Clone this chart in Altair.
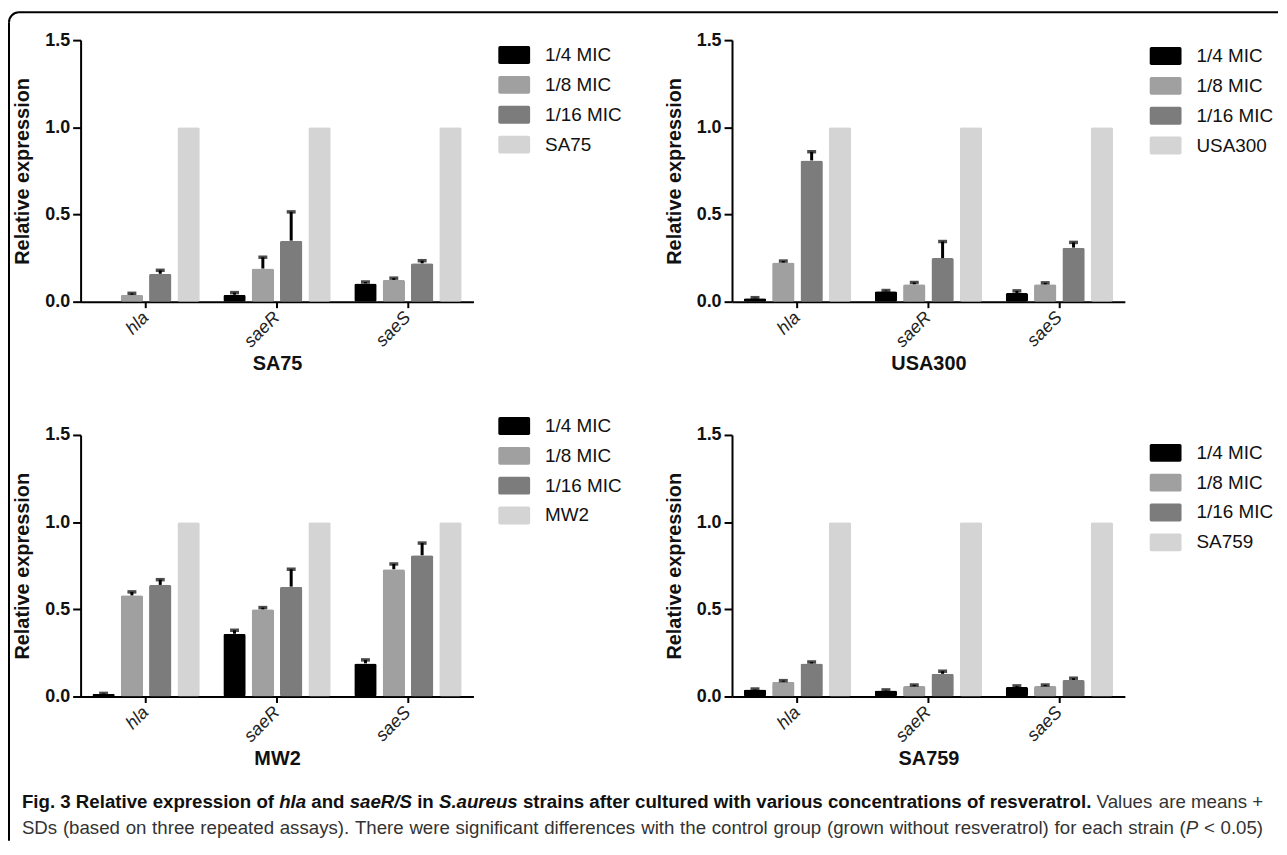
import altair as alt
import pandas as pd

FONT = "Liberation Sans"

genes = ["hla", "saeR", "saeS"]
doses = ["1/4 MIC", "1/8 MIC", "1/16 MIC"]
strains = ["SA75", "USA300", "MW2", "SA759"]
bar_colors = ["#000000", "#a0a0a0", "#7c7c7c", "#d4d4d4"]

# rows = genes (hla, saeR, saeS); columns = 1/4 MIC, 1/8 MIC, 1/16 MIC, untreated strain
sa75_mean = [[0.0, 0.04, 0.16, 1.0], [0.04, 0.19, 0.35, 1.0], [0.105, 0.125, 0.22, 1.0]]
sa75_sd = [[0.0, 0.008, 0.02, 0.0], [0.012, 0.065, 0.165, 0.0], [0.008, 0.01, 0.015, 0.0]]

usa300_mean = [[0.02, 0.225, 0.81, 1.0], [0.06, 0.10, 0.25, 1.0], [0.05, 0.10, 0.31, 1.0]]
usa300_sd = [[0.003, 0.008, 0.05, 0.0], [0.004, 0.01, 0.095, 0.0], [0.012, 0.008, 0.03, 0.0]]

mw2_mean = [[0.015, 0.58, 0.64, 1.0], [0.36, 0.50, 0.63, 1.0], [0.19, 0.73, 0.81, 1.0]]
mw2_sd = [[0.003, 0.02, 0.03, 0.0], [0.02, 0.01, 0.10, 0.0], [0.02, 0.03, 0.07, 0.0]]

sa759_mean = [[0.04, 0.085, 0.19, 1.0], [0.035, 0.06, 0.13, 1.0], [0.055, 0.06, 0.095, 1.0]]
sa759_sd = [[0.003, 0.006, 0.008, 0.0], [0.003, 0.006, 0.015, 0.0], [0.006, 0.006, 0.01, 0.0]]

caption_line1 = [
    ("Fig. 3 Relative expression of", "b"), ("hla", "bi"), ("and", "b"), ("saeR/S", "bi"),
    ("in", "b"), ("S.aureus", "bi"),
    ("strains after cultured with various concentrations of resveratrol.", "b"),
    ("Values are means +", "r"),
]
caption_line2 = [
    ("SDs (based on three repeated assays). There were significant differences with the control "
     "group (grown without resveratrol) for each strain (", "r"),
    ("P", "i"), ("< 0.05)", "r"),
]

W, H = 395, 263

# ---------- panels ----------
SWATCH = ("M-1.1,-0.69H1.1Q1.23,-0.69 1.23,-0.56V0.56Q1.23,0.69 1.1,0.69H-1.1"
          "Q-1.23,0.69 -1.23,0.56V-0.56Q-1.23,-0.69 -1.1,-0.69Z")


def panel(strain, means, sds, legend_y):
    groups = doses + [strain]
    rows = []
    for gi, g in enumerate(genes):
        for k, grp in enumerate(groups):
            m, s = means[gi][k], sds[gi][k]
            rows.append({"gene": g, "group": grp, "value": m, "sd": s, "upper": m + s})
    df = pd.DataFrame(rows)

    xaxis = alt.Axis(
        title=strain, titleFont=FONT, titleFontSize=20, titleFontWeight="bold", titleColor="#111",
        titleY=62, titleBaseline="middle",
        labelAngle=315, labelAlign="right", labelBaseline="middle", labelFont=FONT,
        labelFontSize=18, labelFontStyle="italic", labelColor="#222", labelPadding=7,
        tickSize=6, tickWidth=2, tickColor="black", domainWidth=2, domainColor="black", grid=False,
    )
    yaxis = alt.Axis(
        title="Relative expression", values=[0, 0.5, 1.0, 1.5], format=".1f",
        labelFont=FONT, labelFontSize=18, labelFontWeight="bold", labelColor="#111", labelPadding=3,
        tickSize=8, tickWidth=2, tickColor="black", domainWidth=2, domainColor="black", grid=False,
        titleFont=FONT, titleFontSize=20, titleFontWeight="bold", titleColor="#111",
        titleX=-58, titleBaseline="middle",
    )
    xscale = alt.Scale(domain=genes, paddingInner=0.18, paddingOuter=0.09)
    oscale = alt.Scale(domain=groups, paddingInner=0.21, paddingOuter=0)
    yscale = alt.Scale(domain=[0, 1.5], nice=False)

    def xenc():
        return alt.X("gene:N", sort=genes, title=strain, scale=xscale, axis=xaxis)

    def oenc():
        return alt.XOffset("group:N", sort=groups, scale=oscale)

    legend = alt.Legend(
        orient="none", legendX=W + 28, legendY=legend_y, direction="vertical",
        symbolType=SWATCH, symbolSize=676, symbolStrokeWidth=0, symbolOpacity=1,
        labelFont=FONT, labelFontSize=19, labelColor="#111", labelOffset=18,
        rowPadding=7, padding=0, labelLimit=300,
    )
    bars = alt.Chart(df).mark_bar(cornerRadius=2).encode(
        x=xenc(), xOffset=oenc(),
        y=alt.Y("value:Q", title="Relative expression", scale=yscale, axis=yaxis),
        color=alt.Color("group:N", sort=groups, title=None,
                        scale=alt.Scale(domain=groups, range=bar_colors), legend=legend),
    )
    err = alt.Chart(df).transform_filter("datum.sd > 0")
    stem = err.mark_rule(color="black", strokeWidth=3).encode(
        x=xenc(), xOffset=oenc(),
        y=alt.Y("value:Q", title="Relative expression", scale=yscale, axis=yaxis), y2="upper:Q",
    )
    cap = err.mark_tick(color="black", thickness=3.5, size=9, orient="horizontal").encode(
        x=xenc(), xOffset=oenc(),
        y=alt.Y("upper:Q", title="Relative expression", scale=yscale, axis=yaxis),
    )
    return alt.layer(bars, stem, cap).properties(width=W, height=H)


p1 = panel("SA75", sa75_mean, sa75_sd, 2)
p2 = panel("USA300", usa300_mean, usa300_sd, 3)
p3 = panel("MW2", mw2_mean, mw2_sd, -22)
p4 = panel("SA759", sa759_mean, sa759_sd, 5)

# ---------- caption (justified lines, mixed styles) ----------
CHARS = " !\"#$%&'()*+,-./0123456789:;<=>?@ABCDEFGHIJKLMNOPQRSTUVWXYZ[\\]^_`abcdefghijklmnopqrstuvwxyz"
REG = dict(zip(CHARS,
    [278, 278, 355, 556, 556, 889, 667, 191, 333, 333, 389, 584, 278, 333, 278, 278]
    + [556] * 10 + [278, 278, 584, 584, 584, 556, 1015,
                    667, 667, 722, 722, 667, 611, 778, 722, 278, 500, 667, 556, 833, 722, 778,
                    667, 778, 722, 667, 611, 722, 667, 944, 667, 667, 611,
                    278, 278, 278, 469, 556, 333,
                    556, 556, 500, 556, 556, 278, 556, 556, 222, 222, 500, 222, 833, 556, 556,
                    556, 556, 333, 500, 278, 556, 500, 722, 500, 500, 500]))
BOLD = dict(zip(CHARS,
    [278, 333, 474, 556, 556, 889, 722, 238, 333, 333, 389, 584, 278, 333, 278, 278]
    + [556] * 10 + [333, 333, 584, 584, 584, 611, 975,
                    722, 722, 722, 722, 667, 611, 778, 722, 278, 556, 722, 611, 833, 722, 778,
                    667, 778, 722, 667, 611, 722, 667, 944, 667, 667, 611,
                    333, 278, 333, 584, 556, 333,
                    556, 611, 556, 611, 556, 333, 611, 611, 278, 278, 556, 278, 889, 611, 611,
                    611, 611, 389, 556, 333, 611, 556, 778, 556, 556, 500]))


def tw(text, style, fs):
    table = BOLD if "b" in style else REG
    return sum(table.get(c, 556) for c in text) * fs / 1000.0


def tokens(line):
    out = []
    for seg, style in line:
        parts = seg.split(" ")
        for j, w in enumerate(parts):
            glued = (j == 0 and out and out[-1][0].endswith("("))
            out.append((w, style, not glued))
    return out


CAP_X0, CAP_X1 = -59, 1189
line_ys = [-28, -2]
toks = [tokens(caption_line1), tokens(caption_line2)]
fs_fit = []
for tl in toks:
    em = sum(tw(w, s, 1000) for w, s, _ in tl) + sum(
        tw(" ", "r", 1000) for i, (_, _, sp) in enumerate(tl) if i > 0 and sp)
    fs_fit.append((CAP_X1 - CAP_X0) * 1000.0 / em)
CAP_FS = min(fs_fit)

cap_rows = []
for tl, yy in zip(toks, line_ys):
    widths = [tw(w, s, CAP_FS) for w, s, _ in tl]
    ngaps = sum(1 for i, (_, _, sp) in enumerate(tl) if i > 0 and sp)
    gap = ((CAP_X1 - CAP_X0) - sum(widths)) / max(ngaps, 1)
    xx = CAP_X0
    for i, ((w, s, sp), wd) in enumerate(zip(tl, widths)):
        if i > 0 and sp:
            xx += gap
        cap_rows.append({"word": w, "style": s, "px": xx, "py": yy})
        xx += wd
cap_df = pd.DataFrame(cap_rows)

style_map = {"b": ("bold", "normal", "#111"), "bi": ("bold", "italic", "#111"),
             "r": ("normal", "normal", "#333"), "i": ("normal", "italic", "#333")}
cap_layers = []
for key, (fw, fst, col) in style_map.items():
    cap_layers.append(
        alt.Chart(cap_df).transform_filter(alt.datum.style == key).mark_text(
            align="left", baseline="middle", font=FONT, fontSize=CAP_FS,
            fontWeight=fw, fontStyle=fst, color=col,
        ).encode(
            x=alt.X("px:Q", scale=None, axis=None),
            y=alt.Y("py:Q", scale=None, axis=None),
            text="word:N",
        )
    )

one = pd.DataFrame({"k": [0]})
frame_left = alt.Chart(one).mark_rule(color="black", strokeWidth=2).encode(
    x=alt.value(-72), y=alt.value(-812), y2=alt.value(11))
frame_top = alt.Chart(one).mark_rule(color="black", strokeWidth=2).encode(
    x=alt.value(-62), x2=alt.value(1204), y=alt.value(-822))
frame_corner = alt.Chart(one).mark_arc(
    color="black", radius=11, radius2=9, theta=4.712389, theta2=6.283185).encode(
    x=alt.value(-62), y=alt.value(-812))

caption = alt.layer(*cap_layers, frame_left, frame_top, frame_corner).properties(width=1, height=1)

chart = alt.concat(
    p1, p2, p3, p4, caption, columns=2,
    spacing={"row": 134, "column": 260}, bounds="flush", align="all",
).resolve_scale(
    color="independent", x="independent", y="independent", xOffset="independent"
).properties(
    padding={"left": 0, "top": 1, "right": 0, "bottom": 0}, background="white"
).configure_view(strokeWidth=0)

chart.save("out.html", embed_options={"renderer": "svg", "actions": False})
